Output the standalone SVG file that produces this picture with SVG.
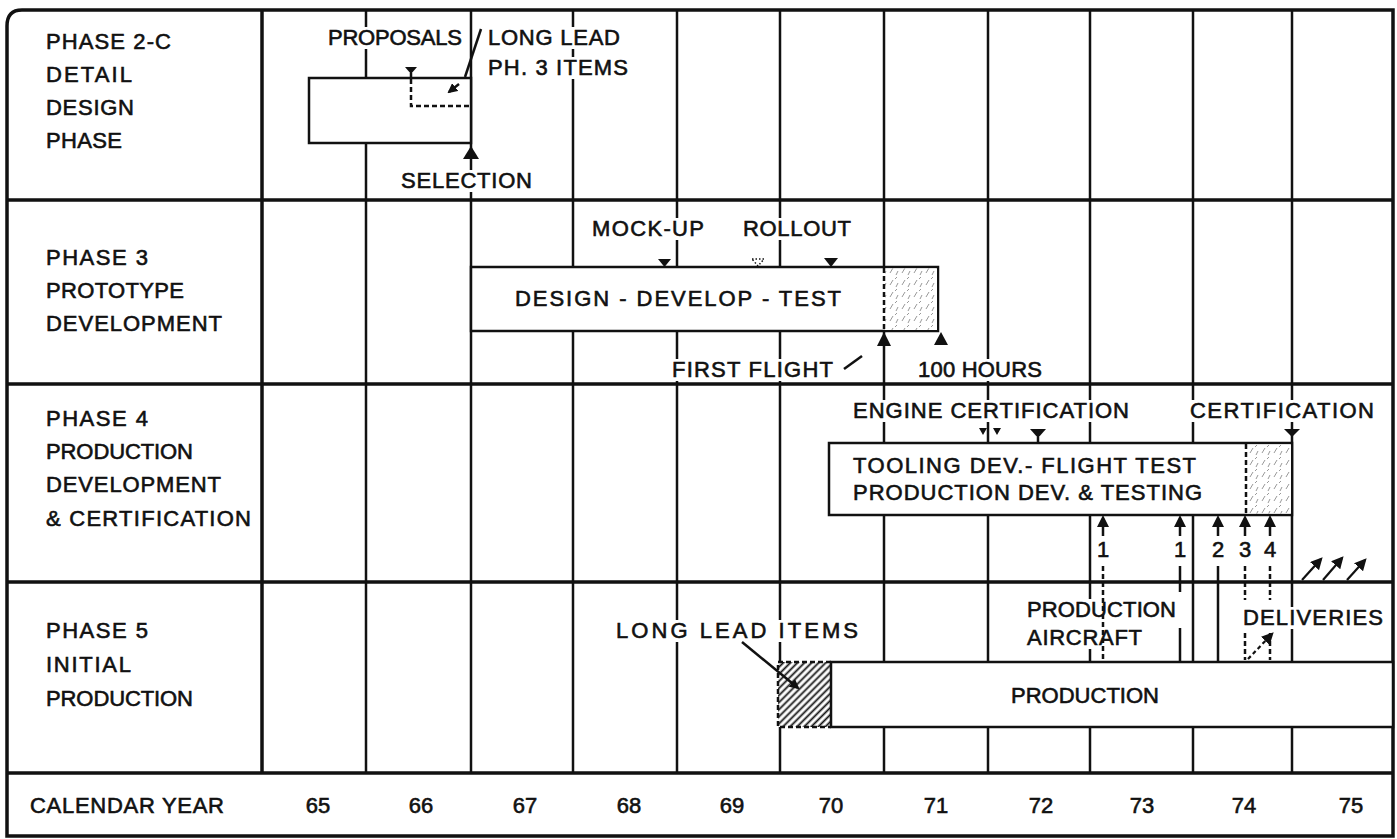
<svg xmlns="http://www.w3.org/2000/svg" width="1397" height="839" viewBox="0 0 1397 839">
<defs>
<style>
.t{font-family:"Liberation Sans",Arial,sans-serif;font-size:22px;fill:#111;stroke:#111;stroke-width:0.6}
.m{text-anchor:middle}
.ln{stroke:#111;stroke-width:2.5;fill:none}
.dv{stroke:#111;stroke-width:3.5;fill:none}
.box{fill:#fff;stroke:#111;stroke-width:2.5}
.sd{stroke-dasharray:5 3}
.bg{fill:#fff}
.mk{fill:#111;stroke:none}
.da{stroke:#111;stroke-width:2.2;fill:none}
</style>
<pattern id="hatch" patternUnits="userSpaceOnUse" width="5" height="5" patternTransform="rotate(45)"><rect width="5" height="5" fill="#fff"/><line x1="2.5" y1="0" x2="2.5" y2="5" stroke="#111" stroke-width="1.8"/></pattern>
<pattern id="stip" patternUnits="userSpaceOnUse" width="12" height="12"><rect width="12" height="12" fill="#fff"/><path d="M2,9 L5,4 M8,11 L10,7 M7,3 L9,1" stroke="#999" stroke-width="1"/></pattern>
<marker id="ah" viewBox="0 0 10 10" refX="8" refY="5" markerWidth="4" markerHeight="4" orient="auto"><path d="M0,0 L10,5 L0,10 z" fill="#111"/></marker>
<marker id="ah2" viewBox="0 0 10 10" refX="8" refY="5" markerWidth="5.5" markerHeight="5.5" orient="auto"><path d="M0,0 L10,5 L0,10 z" fill="#111"/></marker>
</defs>
<rect width="1397" height="839" fill="#fff"/>

<g id="grid">
<path class="ln" d="M366,10V773 M471,10V773 M573,10V773 M677,10V773 M780,10V773 M884,10V773 M988,10V773 M1090,10V773 M1193,10V773 M1292,10V773"/>
<path class="dv" d="M262,10V773"/>
<path class="dv" d="M7,200H1393 M7,384H1393 M7,582H1393 M7,773H1393"/>
<path class="dv" d="M22,10H1393V836H7V26Q7,10 22,10Z"/>
</g>

<g id="bars">
<g id="bar-phase2c"><rect class="box" x="309" y="78" width="162" height="65"/></g>
<g id="bar-phase3"><rect class="box" x="471" y="267" width="467" height="64"/>
<rect x="885" y="268.5" width="52" height="61.5" fill="url(#stip)"/>
<path class="ln sd" d="M884,268V330"/></g>
<g id="bar-phase4"><rect class="box" x="829" y="443" width="463" height="72"/>
<rect x="1247" y="444.5" width="44" height="69" fill="url(#stip)"/>
<path class="ln sd" d="M1246,444V514"/></g>
<g id="bar-phase5"><rect x="778" y="662" width="53" height="65" fill="url(#hatch)"/>
<path class="ln sd" d="M831,662H778V727H831"/>
<rect class="box" x="831" y="662" width="562" height="65"/></g>
</g>

<g id="text-bg">
<rect class="bg" x="325" y="27" width="140" height="22"/>
<rect class="bg" x="485" y="27" width="138" height="22"/>
<rect class="bg" x="485" y="57" width="146" height="22"/>
<rect class="bg" x="398" y="170" width="137" height="22"/>
<rect class="bg" x="589" y="218" width="118" height="22"/>
<rect class="bg" x="740" y="218" width="114" height="22"/>
<rect class="bg" x="669" y="359" width="167" height="22"/>
<rect class="bg" x="915" y="359" width="130" height="22"/>
<rect class="bg" x="850" y="400" width="282" height="22"/>
<rect class="bg" x="1187" y="400" width="190" height="22"/>
<rect class="bg" x="613" y="620" width="248" height="22"/>
<rect class="bg" x="1024" y="599" width="155" height="50"/>
<rect class="bg" x="1240" y="607" width="146" height="22"/>
</g>

<g id="lbl-phase2c">
<text class="t" x="46" y="49" textLength="125" lengthAdjust="spacing">PHASE 2-C</text>
<text class="t" x="46" y="82" textLength="86" lengthAdjust="spacing">DETAIL</text>
<text class="t" x="46" y="115" textLength="88" lengthAdjust="spacing">DESIGN</text>
<text class="t" x="46" y="148" textLength="76" lengthAdjust="spacing">PHASE</text>
</g>
<g id="lbl-phase3">
<text class="t" x="46" y="265" textLength="102" lengthAdjust="spacing">PHASE 3</text>
<text class="t" x="46" y="298" textLength="138" lengthAdjust="spacing">PROTOTYPE</text>
<text class="t" x="46" y="331" textLength="176" lengthAdjust="spacing">DEVELOPMENT</text>
</g>
<g id="lbl-phase4">
<text class="t" x="46" y="426" textLength="102" lengthAdjust="spacing">PHASE 4</text>
<text class="t" x="46" y="459" textLength="147" lengthAdjust="spacing">PRODUCTION</text>
<text class="t" x="46" y="492" textLength="175" lengthAdjust="spacing">DEVELOPMENT</text>
<text class="t" x="46" y="526" textLength="205" lengthAdjust="spacing">&amp; CERTIFICATION</text>
</g>
<g id="lbl-phase5">
<text class="t" x="46" y="638" textLength="102" lengthAdjust="spacing">PHASE 5</text>
<text class="t" x="46" y="672" textLength="85" lengthAdjust="spacing">INITIAL</text>
<text class="t" x="46" y="706" textLength="147" lengthAdjust="spacing">PRODUCTION</text>
</g>

<g id="ev-proposals">
<text class="t" x="328" y="45" textLength="134" lengthAdjust="spacing">PROPOSALS</text>
<path class="mk" d="M405,67H417L411,74Z"/><path class="ln" d="M411,73V78"/>
<path class="ln sd" d="M411,79V106H469"/>
</g>
<g id="ev-longlead-ph3">
<text class="t" x="488" y="45" textLength="132" lengthAdjust="spacing">LONG LEAD</text>
<text class="t" x="488" y="75" textLength="140" lengthAdjust="spacing">PH. 3 ITEMS</text>
</g>
<g id="ev-selection">
<path class="mk" d="M471,146L463,159H479Z"/>
<text class="t" x="401" y="188" textLength="131" lengthAdjust="spacing">SELECTION</text>
</g>

<g id="ev-mockup">
<text class="t" x="592" y="236" textLength="112" lengthAdjust="spacing">MOCK-UP</text>
<path class="mk" d="M658,259H671L664.5,267Z"/>
</g>
<g id="ev-rollout">
<text class="t" x="743" y="236" textLength="108" lengthAdjust="spacing">ROLLOUT</text>
<path d="M752,259H764L758,266Z" fill="none" stroke="#111" stroke-width="1.5" stroke-dasharray="1.5 2"/>
<path class="mk" d="M824,258H838L831,267Z"/>
</g>
<g id="task-ddt"><text class="t m" x="678" y="306" textLength="326" lengthAdjust="spacing">DESIGN - DEVELOP - TEST</text></g>
<g id="ev-firstflight">
<path class="mk" d="M884,332L877,346H891Z"/>
<text class="t" x="672" y="377" textLength="161" lengthAdjust="spacing">FIRST FLIGHT</text>
</g>
<g id="ev-100hours">
<path class="mk" d="M941,332L934,345H948Z"/>
<text class="t" x="918" y="377" textLength="124" lengthAdjust="spacing">100 HOURS</text>
</g>

<g id="ev-enginecert">
<text class="t" x="853" y="418" textLength="276" lengthAdjust="spacing">ENGINE CERTIFICATION</text>
<path class="mk" d="M979,428H987L983,435Z M993,428H1001L997,435Z"/>
<path class="mk" d="M1030,429H1046L1038,438Z"/><path class="ln" d="M1038,437V443"/>
</g>
<g id="ev-cert">
<text class="t" x="1190" y="418" textLength="184" lengthAdjust="spacing">CERTIFICATION</text>
<path class="mk" d="M1284,429H1300L1292,437Z"/>
</g>
<g id="task-tooling">
<text class="t" x="853" y="473" textLength="343" lengthAdjust="spacing">TOOLING DEV.- FLIGHT TEST</text>
<text class="t" x="853" y="500" textLength="349" lengthAdjust="spacing">PRODUCTION DEV. &amp; TESTING</text>
</g>
<g id="ev-aircraft">
<text class="t m" x="1103" y="557">1</text>
<text class="t m" x="1180" y="557">1</text>
<text class="t m" x="1218" y="557">2</text>
<text class="t m" x="1245" y="557">3</text>
<text class="t m" x="1270" y="557">4</text>
</g>

<g id="ev-longlead-items">
<text class="t" x="616" y="638" textLength="242" lengthAdjust="spacing">LONG LEAD ITEMS</text>
</g>
<g id="ev-prod-aircraft">
<text class="t" x="1027" y="617" textLength="149" lengthAdjust="spacing">PRODUCTION</text>
<text class="t" x="1027" y="645" textLength="115" lengthAdjust="spacing">AIRCRAFT</text>
</g>
<g id="ev-deliveries">
<text class="t" x="1243" y="625" textLength="140" lengthAdjust="spacing">DELIVERIES</text>
</g>
<g id="task-production"><text class="t m" x="1085" y="703" textLength="148" lengthAdjust="spacing">PRODUCTION</text></g>

<g id="calendar">
<text class="t" x="30" y="813" textLength="194" lengthAdjust="spacing">CALENDAR YEAR</text>
<text class="t m" x="318" y="813">65</text>
<text class="t m" x="421" y="813">66</text>
<text class="t m" x="525" y="813">67</text>
<text class="t m" x="629" y="813">68</text>
<text class="t m" x="732" y="813">69</text>
<text class="t m" x="831" y="813">70</text>
<text class="t m" x="936" y="813">71</text>
<text class="t m" x="1041" y="813">72</text>
<text class="t m" x="1142" y="813">73</text>
<text class="t m" x="1244" y="813">74</text>
<text class="t m" x="1351" y="813">75</text>
</g>

<g id="connectors">
<path class="ln" d="M481,29L465,77"/>
<path class="ln" d="M459,84L449,92" marker-end="url(#ah)"/>
<path class="ln" d="M844,369L862,356"/>
<path class="mk" d="M1103,515L1097,527H1109Z M1180,515L1174,527H1186Z M1218,515L1212,527H1224Z M1245,515L1239,527H1251Z M1270,515L1264,527H1276Z"/>
<path class="ln" d="M1103,526V536 M1180,526V536 M1218,526V536 M1245,526V536 M1270,526V536"/>
<path class="ln sd" d="M1103,566V662 M1245,566V600 M1270,566V600 M1245,633V660 M1270,633V660"/>
<path class="ln" d="M1180,566V592 M1180,628V662 M1218,566V662"/>
<path class="da" d="M1302,580L1321,559" marker-end="url(#ah2)"/>
<path class="da" d="M1323,580L1342,558" marker-end="url(#ah2)"/>
<path class="da" d="M1347,580L1365,560" marker-end="url(#ah2)"/>
<path class="ln" d="M742,642L798,688" stroke-width="3.5" marker-end="url(#ah)"/>
<path class="da" d="M1248,659L1272,634" stroke-dasharray="4 3" marker-end="url(#ah2)"/>
</g>
</svg>
